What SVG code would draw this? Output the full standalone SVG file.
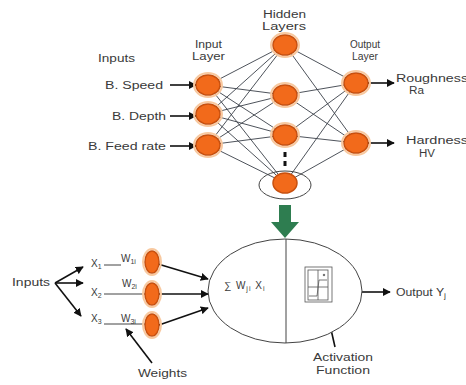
<svg xmlns="http://www.w3.org/2000/svg" width="466" height="385" viewBox="0 0 466 385">
<style>
text{font-family:"Liberation Sans",Arial,sans-serif;font-size:10px;fill:#3a3a3a;}
.sub{font-size:7px;}
.net line{stroke:#3a3f48;stroke-width:0.9;}
.arr{stroke:#111;stroke-width:1.6;fill:none;marker-end:url(#ah);}
.node{fill:#F26A1B;stroke:#C8500E;stroke-width:1.5;}
.halo{fill:none;stroke:#F8C9A0;stroke-width:2;}
.thin{stroke:#444;stroke-width:1;fill:none;}
</style>
<defs>
<marker id="ah" viewBox="0 0 10 10" refX="9" refY="5" markerWidth="5" markerHeight="5" orient="auto" markerUnits="strokeWidth">
<path d="M0,0 L10,5 L0,10 z" fill="#111"/>
</marker>
</defs>
<rect width="466" height="385" fill="#fff"/>

<g id="connectors">
<g class="net">
<line x1="208" y1="85" x2="285" y2="45"/><line x1="208" y1="85" x2="285" y2="95"/><line x1="208" y1="85" x2="285" y2="135"/><line x1="208" y1="85" x2="285" y2="183"/>
<line x1="208" y1="114" x2="285" y2="45"/><line x1="208" y1="114" x2="285" y2="95"/><line x1="208" y1="114" x2="285" y2="135"/><line x1="208" y1="114" x2="285" y2="183"/>
<line x1="208" y1="145" x2="285" y2="45"/><line x1="208" y1="145" x2="285" y2="95"/><line x1="208" y1="145" x2="285" y2="135"/><line x1="208" y1="145" x2="285" y2="183"/>
<line x1="285" y1="45" x2="356" y2="83"/><line x1="285" y1="45" x2="356" y2="143"/>
<line x1="285" y1="95" x2="356" y2="83"/><line x1="285" y1="95" x2="356" y2="143"/>
<line x1="285" y1="135" x2="356" y2="83"/><line x1="285" y1="135" x2="356" y2="143"/>
<line x1="285" y1="183" x2="356" y2="83"/><line x1="285" y1="183" x2="356" y2="143"/>
</g>
<line class="arr" x1="170" y1="85" x2="196" y2="85"/>
<line class="arr" x1="170" y1="116" x2="196" y2="116"/>
<line class="arr" x1="170" y1="146" x2="196" y2="146"/>
<line class="arr" x1="368" y1="83" x2="394" y2="83"/>
<line class="arr" x1="368" y1="143" x2="394" y2="143"/>
<line x1="285" y1="152" x2="285" y2="170" stroke="#111" stroke-width="3" stroke-dasharray="5,4"/>
<ellipse cx="285" cy="185" rx="26" ry="14" class="thin"/>
<line class="arr" x1="55" y1="283" x2="83" y2="267"/>
<line class="arr" x1="55" y1="283" x2="83" y2="283"/>
<line class="arr" x1="55" y1="283" x2="81" y2="316"/>
<line class="thin" x1="104" y1="265" x2="121" y2="265"/>
<line class="thin" x1="104" y1="294" x2="146" y2="294"/>
<line class="thin" x1="104" y1="324" x2="146" y2="324"/>
<line class="arr" x1="158" y1="264" x2="208" y2="279"/>
<line class="arr" x1="159" y1="294" x2="208" y2="294"/>
<line class="arr" x1="159" y1="325" x2="208" y2="308"/>
<line class="arr" x1="152" y1="363" x2="126" y2="329"/>
<line class="arr" x1="361" y1="292" x2="390" y2="292"/>
<line class="arr" x1="335" y1="347" x2="325" y2="303"/>
</g>

<g id="input-layer">
<ellipse class="halo" cx="208" cy="85" rx="14" ry="12"/><ellipse class="node" cx="208" cy="85" rx="12" ry="10"/>
<ellipse class="halo" cx="208" cy="114" rx="14" ry="12"/><ellipse class="node" cx="208" cy="114" rx="12" ry="10"/>
<ellipse class="halo" cx="208" cy="145" rx="14" ry="12"/><ellipse class="node" cx="208" cy="145" rx="12" ry="10"/>
</g>
<g id="hidden-layer">
<ellipse class="halo" cx="285" cy="45" rx="14" ry="12"/><ellipse class="node" cx="285" cy="45" rx="12" ry="10"/>
<ellipse class="halo" cx="285" cy="95" rx="14" ry="12"/><ellipse class="node" cx="285" cy="95" rx="12" ry="10"/>
<ellipse class="halo" cx="285" cy="135" rx="14" ry="12"/><ellipse class="node" cx="285" cy="135" rx="12" ry="10"/>
<ellipse class="node" cx="285" cy="183" rx="12" ry="10"/>
</g>
<g id="output-layer">
<ellipse class="halo" cx="356" cy="83" rx="14" ry="12"/><ellipse class="node" cx="356" cy="83" rx="12" ry="10"/>
<ellipse class="halo" cx="356" cy="143" rx="14" ry="12"/><ellipse class="node" cx="356" cy="143" rx="12" ry="10"/>
</g>

<g id="labels-top">
<text x="98" y="62" textLength="37" lengthAdjust="spacingAndGlyphs">Inputs</text>
<text x="195" y="48" textLength="27" lengthAdjust="spacingAndGlyphs">Input</text>
<text x="192" y="60" textLength="33" lengthAdjust="spacingAndGlyphs">Layer</text>
<text x="105" y="89" textLength="58" lengthAdjust="spacingAndGlyphs">B. Speed</text>
<text x="112" y="120" textLength="54" lengthAdjust="spacingAndGlyphs">B. Depth</text>
<text x="88" y="150" textLength="78" lengthAdjust="spacingAndGlyphs">B. Feed rate</text>
<text x="263" y="18" textLength="43" lengthAdjust="spacingAndGlyphs">Hidden</text>
<text x="262" y="30" textLength="44" lengthAdjust="spacingAndGlyphs">Layers</text>
<text x="350" y="48" textLength="30" lengthAdjust="spacingAndGlyphs">Output</text>
<text x="352" y="60" textLength="26" lengthAdjust="spacingAndGlyphs">Layer</text>
<text x="396" y="82" textLength="72" lengthAdjust="spacingAndGlyphs">Roughness</text>
<text x="409" y="94" textLength="15" lengthAdjust="spacingAndGlyphs">Ra</text>
<text x="406" y="144" textLength="62" lengthAdjust="spacingAndGlyphs">Hardness</text>
<text x="419" y="157" textLength="16" lengthAdjust="spacingAndGlyphs">HV</text>
</g>

<g id="transfer-arrow">
<rect x="279" y="205" width="12" height="18" fill="#2E7D50"/>
<polygon points="271,222 299,222 285,238" fill="#2E7D50"/>
</g>

<g id="neuron">
<ellipse cx="285" cy="291" rx="77" ry="52" fill="#fff" stroke="#444" stroke-width="1"/>
<line x1="286" y1="239" x2="286" y2="343" stroke="#444" stroke-width="1"/>
<text x="224" y="289" font-size="11" letter-spacing="1">∑ W<tspan class="sub" dy="2">ji</tspan><tspan dy="-2"> X</tspan><tspan class="sub" dy="2">i</tspan></text>
<g id="activation-icon" fill="none" stroke="#555" stroke-width="0.8">
<rect x="305" y="267" width="27" height="35"/>
<rect x="308" y="270" width="20" height="30"/>
<line x1="318" y1="270" x2="318" y2="300"/>
<line x1="308" y1="287" x2="328" y2="287"/>
<path d="M309,296 L317,296 L319,280 L327,280"/>
<circle cx="324" cy="275" r="0.8" fill="#555"/>
</g>
</g>

<g id="inputs-fork">
<text x="12" y="286" textLength="38" lengthAdjust="spacingAndGlyphs">Inputs</text>
</g>
<g id="x1"><text x="91" y="267">X<tspan class="sub" dy="2">1</tspan></text><text x="121" y="262">W<tspan class="sub" dy="2">1i</tspan></text><ellipse class="halo" cx="152" cy="262" rx="9" ry="13"/><ellipse class="node" cx="152" cy="262" rx="7" ry="11"/></g>
<g id="x2"><text x="91" y="296">X<tspan class="sub" dy="2">2</tspan></text><text x="122" y="287">W<tspan class="sub" dy="2">2i</tspan></text><ellipse class="halo" cx="152" cy="294" rx="9" ry="13"/><ellipse class="node" cx="152" cy="294" rx="7" ry="11"/></g>
<g id="x3"><text x="91" y="322">X<tspan class="sub" dy="2">3</tspan></text><text x="121" y="322">W<tspan class="sub" dy="2">3i</tspan></text><ellipse class="halo" cx="152" cy="325" rx="9" ry="13"/><ellipse class="node" cx="152" cy="325" rx="7" ry="11"/></g>
<g id="weights-label"><text x="138" y="377" textLength="49" lengthAdjust="spacingAndGlyphs">Weights</text></g>
<g id="activation-label">
<text x="313" y="361" textLength="60" lengthAdjust="spacingAndGlyphs">Activation</text>
<text x="316" y="374" textLength="54" lengthAdjust="spacingAndGlyphs">Function</text>
</g>
<g id="output-label"><text x="396" y="296" textLength="50" lengthAdjust="spacingAndGlyphs">Output Y<tspan class="sub" dy="2">j</tspan></text></g>
</svg>
